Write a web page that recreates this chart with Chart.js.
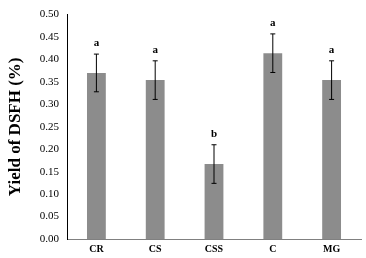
<!DOCTYPE html>
<html><head><meta charset="utf-8">
<script src="https://cdn.jsdelivr.net/npm/chart.js@4"></script>
<style>html,body{margin:0;padding:0;background:#fff;}#w{width:366px;height:258px;}</style>
</head><body><div id="w"><canvas id="c"></canvas></div>
<script>
const categories = ["CR", "CS", "CSS", "C", "MG"];
const yieldValues = [0.370, 0.354, 0.167, 0.414, 0.354];
const errorValues = [0.042, 0.043, 0.043, 0.043, 0.043];
const sigLetters = ["a", "a", "b", "a", "a"];
const yTicks = [0, 0.05, 0.10, 0.15, 0.20, 0.25, 0.30, 0.35, 0.40, 0.45, 0.50];

const errPlugin = {
  id: 'err',
  afterDatasetsDraw(chart) {
    const ctx = chart.ctx, y = chart.scales.y, meta = chart.getDatasetMeta(0);
    ctx.save();
    meta.data.forEach((bar, i) => {
      const x = bar.x;
      const top = y.getPixelForValue(yieldValues[i] + errorValues[i]);
      const bot = y.getPixelForValue(yieldValues[i] - errorValues[i]);
      ctx.strokeStyle = '#000'; ctx.lineWidth = 1;
      ctx.beginPath();
      ctx.moveTo(x, top); ctx.lineTo(x, bot);
      ctx.moveTo(x - 2.5, top); ctx.lineTo(x + 2.5, top);
      ctx.moveTo(x - 2.5, bot); ctx.lineTo(x + 2.5, bot);
      ctx.stroke();
      ctx.fillStyle = '#000';
      ctx.font = 'bold 11px "Liberation Serif"';
      ctx.textAlign = 'center'; ctx.textBaseline = 'bottom';
      ctx.fillText(sigLetters[i], x, top - 5);
    });
    ctx.restore();
  }
};

new Chart(document.getElementById('c'), {
  type: 'bar',
  data: { labels: categories, datasets: [{ data: yieldValues, backgroundColor: '#8c8c8c', barPercentage: 0.32, categoryPercentage: 1 }] },
  options: {
    responsive: true, maintainAspectRatio: false, animation: false,
    layout: { padding: { top: 7, right: 5, left: 0, bottom: 0 } },
    plugins: { legend: { display: false }, tooltip: { enabled: false } },
    scales: {
      x: {
        grid: { display: false, drawTicks: false },
        border: { display: true, color: '#808080', width: 1 },
        ticks: { color: '#000', font: { family: 'Liberation Serif', size: 10, weight: 'bold' }, padding: 4 },
        afterFit(s) { s.height = 19; }
      },
      y: {
        min: 0, max: 0.5,
        afterBuildTicks(s) { s.ticks = yTicks.map(v => ({ value: v })); },
        grid: { display: false, drawTicks: false },
        border: { display: true, color: '#000', width: 1 },
        ticks: { color: '#000', font: { family: 'Liberation Serif', size: 11 }, padding: 8, callback: v => v.toFixed(2) },
        title: { display: true, text: 'Yield of DSFH (%)', color: '#000', font: { family: 'Liberation Serif', size: 17, weight: 'bold' }, padding: { top: 5, bottom: 0 } },
        afterFit(s) { s.width = 67; }
      }
    }
  },
  plugins: [errPlugin]
});
</script></body></html>
